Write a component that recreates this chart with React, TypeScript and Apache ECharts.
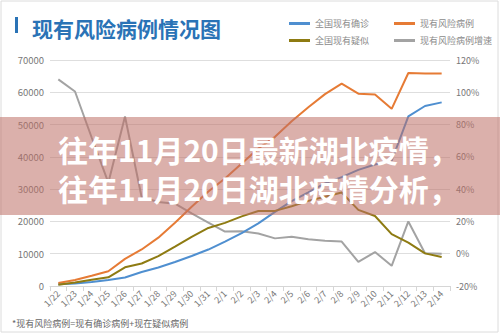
import React, { useEffect, useRef } from "react";
import * as echarts from "echarts";

const categories = ["1/22","1/23","1/24","1/25","1/26","1/27","1/28","1/29","1/30","1/31","2/1","2/2","2/3","2/4","2/5","2/6","2/7","2/8","2/9","2/10","2/11","2/12","2/13","2/14"];
const confirmed = [526, 771, 1208, 1870, 2613, 4349, 5739, 7417, 9308, 11289, 13748, 16369, 19381, 22942, 26302, 28985, 31774, 33738, 35982, 37626, 38800, 52526, 55748, 56873];
const suspected = [393, 1072, 1965, 2684, 5794, 6973, 9239, 12167, 15238, 17988, 19544, 21558, 23214, 23260, 24702, 26359, 27657, 28942, 23589, 21675, 16067, 13435, 10109, 8969];
const riskCases = [919, 1843, 3173, 4554, 8407, 11322, 14978, 19584, 24546, 29277, 33292, 37927, 42595, 46202, 51004, 55344, 59431, 62680, 59571, 59301, 54867, 65961, 65857, 65842];
const riskGrowth = [108, 100.5, 72, 44, 85, 35, 32, 31, 25, 19.3, 13.7, 13.9, 12.5, 9.5, 10.5, 9, 8, 7.5, -5, 1, -7.5, 20, 0.3, -0.02];
const leftTicks = { min: 0, max: 70000, interval: 10000 };
const rightTicks = { min: -20, max: 120, interval: 20 };

const FONT = "Noto Sans CJK SC";
const BLUE = "#4f8fd0";
const ORANGE = "#e67b35";
const OLIVE = "#8e7b12";
const GRAY = "#a3a3a3";

function withLastLabel(values: number[], label: any) {
  return values.map((v, i) => (i === values.length - 1 ? { value: v, label: { show: true, ...label } } : v));
}

export default function App() {
  const ref = useRef<HTMLDivElement>(null);
  useEffect(() => {
    const chart = echarts.init(ref.current!, null, { renderer: "svg" });
    const legendText = { fontSize: 9, color: "#8a8a8a", fontFamily: FONT };
    const legendBase = {
      left: 289,
      width: 210,
      padding: 0,
      orient: "horizontal",
      icon: "rect",
      itemWidth: 21,
      itemHeight: 3,
      itemGap: 25,
      textStyle: legendText,
    };
    chart.setOption({
      animation: false,
      backgroundColor: "#ffffff",
      textStyle: { fontFamily: FONT },
      title: {
        text: "现有风险病例情况图",
        left: 27,
        top: 12,
        textStyle: { fontSize: 21, color: "#2a73b6", fontWeight: "bold", fontFamily: FONT },
      },
      legend: [
        { ...legendBase, data: ["全国现有确诊", "现有风险病例"], top: 19 },
        { ...legendBase, data: ["全国现有疑似", "现有风险病例增速"], top: 36 },
      ],
      grid: { left: 50, right: 50, top: 60, bottom: 48 },
      xAxis: {
        type: "category",
        data: categories,
        boundaryGap: true,
        axisLine: { lineStyle: { color: "#d6d6d6" } },
        axisTick: { show: true, lineStyle: { color: "#d6d6d6" } },
        axisLabel: { interval: 0, rotate: 45, fontSize: 9, color: "#777", margin: 6 },
      },
      yAxis: [
        {
          type: "value",
          ...leftTicks,
          axisLine: { show: false },
          axisTick: { show: false },
          splitLine: { lineStyle: { color: "#dedede" } },
          axisLabel: { fontSize: 9.5, color: "#777", margin: 6, formatter: (v: number) => String(v) },
        },
        {
          type: "value",
          ...rightTicks,
          axisLine: { show: false },
          axisTick: { show: false },
          splitLine: { show: false },
          axisLabel: { fontSize: 9, color: "#777", margin: 6, formatter: "{value}%" },
        },
      ],
      series: [
        {
          name: "全国现有确诊",
          type: "line",
          data: withLastLabel(confirmed, { position: "bottom", distance: 5, fontSize: 10, color: "#3f6fae" }),
          showSymbol: false,
          symbol: "none",
          lineStyle: { width: 2, color: BLUE },
          itemStyle: { color: BLUE },
          z: 3,
        },
        {
          name: "现有风险病例",
          type: "line",
          data: withLastLabel(riskCases, { position: "bottom", distance: 5, fontSize: 10, color: "#d8793a" }),
          showSymbol: false,
          symbol: "none",
          lineStyle: { width: 2, color: ORANGE },
          itemStyle: { color: ORANGE },
          z: 3,
        },
        {
          name: "全国现有疑似",
          type: "line",
          data: withLastLabel(suspected, { position: "bottom", distance: 7, fontSize: 10, color: "#b8960e" }),
          showSymbol: false,
          symbol: "none",
          lineStyle: { width: 2, color: OLIVE },
          itemStyle: { color: OLIVE },
          z: 3,
        },
        {
          name: "现有风险病例增速",
          type: "line",
          yAxisIndex: 1,
          data: withLastLabel(riskGrowth, { position: "top", distance: 5, fontSize: 11, color: "#555", formatter: "{c}%" }),
          showSymbol: false,
          symbol: "none",
          lineStyle: { width: 2, color: GRAY },
          itemStyle: { color: GRAY },
          z: 2,
        },
      ],
      graphic: [
        { type: "rect", left: 15, top: 17, shape: { width: 3, height: 16 }, style: { fill: "#2a73b6" } },
        {
          type: "rect",
          shape: { x: 1, y: 1, width: 497, height: 331 },
          style: { fill: "none", stroke: "#dcdcdc", lineWidth: 1 },
          silent: true,
          z: 50,
        },
        {
          type: "text",
          left: 12,
          top: 319,
          style: { text: "*现有风险病例=现有确诊病例+现在疑似病例", fontSize: 9, fill: "#666", fontFamily: FONT },
        },
        {
          type: "rect",
          shape: { x: 0, y: 117, width: 500, height: 98 },
          style: { fill: "rgba(190,112,102,0.55)" },
          z: 100,
        },
        {
          type: "text",
          x: 58,
          y: 149,
          style: {
            text: "往年11月20日最新湖北疫情，",
            fontSize: 30,
            fontWeight: "bold",
            fill: "#ffffff",
            fontFamily: FONT,
            textVerticalAlign: "middle",
          },
          z: 101,
        },
        {
          type: "text",
          x: 58,
          y: 188,
          style: {
            text: "往年11月20日湖北疫情分析，",
            fontSize: 30,
            fontWeight: "bold",
            fill: "#ffffff",
            fontFamily: FONT,
            textVerticalAlign: "middle",
          },
          z: 101,
        },
      ],
    });
    return () => chart.dispose();
  }, []);
  return <div ref={ref} style={{ position: "fixed", left: 0, top: 0, width: 500, height: 334 }} />;
}
